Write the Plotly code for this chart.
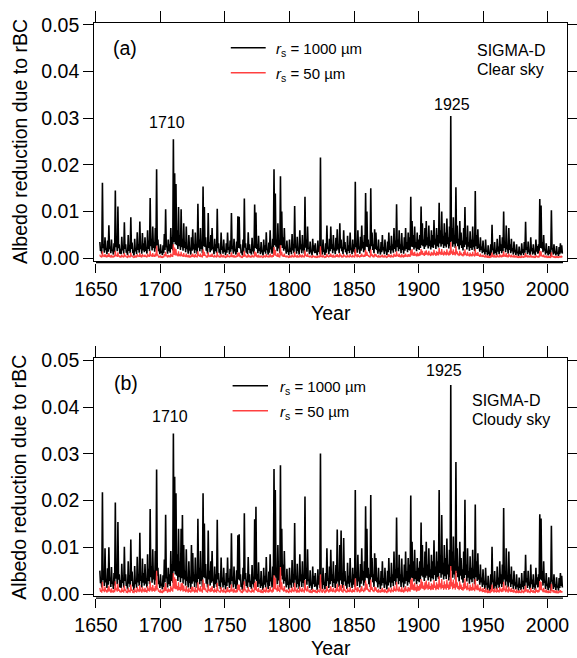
import plotly.graph_objects as go

W, H = 577, 658
years = list(range(1653, 2012))

# Albedo reduction (x 0.001). Each year: a seasonal high value and a seasonal low value.
# clear sky, rs = 1000 um -- seasonal highs
clear_1000_hi = [
    3.5, 2.0, 16.2, 3.0, 4.5, 2.2, 3.8,
    7.1, 2.5, 4.0, 1.8, 3.2, 14.5, 4.0, 11.1, 3.0, 2.0,
    4.6, 2.4, 7.7, 3.0, 1.5, 5.0, 2.8, 8.8, 3.4, 1.2,
    4.2, 2.0, 5.6, 3.0, 7.9, 2.6, 5.4, 3.2, 4.5, 2.4,
    6.0, 3.8, 12.9, 4.2, 6.8, 3.5, 6.5, 19.1, 4.0, 2.0,
    3.0, 1.5, 2.8, 5.2, 10.5, 2.5, 4.0, 3.0, 6.5, 4.5,
    25.5, 18.2, 15.9, 6.0, 11.0, 5.0, 10.5, 4.2, 7.5, 3.5,
    6.8, 2.5, 5.0, 2.0, 4.5, 6.2, 3.0, 5.5, 2.2, 11.7,
    4.0, 6.5, 3.0, 15.4, 11.0, 4.5, 2.5, 9.7, 3.5, 5.0,
    6.5, 2.2, 4.2, 3.0, 10.6, 3.2, 2.0, 5.5, 2.5, 4.0,
    1.8, 3.2, 5.5, 2.4, 3.8, 9.7, 2.6, 4.2, 2.0, 3.6,
    9.0, 8.9, 3.0, 1.6, 4.0, 12.8, 3.2, 2.2, 5.6, 3.0,
    2.0, 4.4, 2.6, 11.5, 9.8, 3.0, 4.8, 2.2, 3.5, 1.5,
    4.0, 2.8, 5.6, 2.0, 3.4, 6.0, 2.5, 4.2, 19.1, 13.9,
    4.0, 7.5, 3.0, 17.6, 10.0, 4.5, 6.5, 2.5, 3.8, 1.8,
    4.0, 2.2, 5.2, 3.0, 11.2, 2.5, 4.6, 2.0, 6.0, 3.0,
    5.0, 2.6, 13.2, 4.0, 6.8, 2.2, 3.6, 1.6, 4.2, 2.8,
    3.2, 1.5, 3.8, 2.4, 21.6, 2.0, 4.0, 1.8, 3.2, 7.0,
    2.4, 4.2, 6.8, 3.0, 5.0, 2.2, 4.4, 6.2, 3.0, 7.5,
    4.0, 2.4, 6.0, 3.5, 2.0, 4.8, 2.8, 5.5, 2.2, 4.0,
    3.0, 16.4, 3.2, 6.0, 2.5, 4.6, 7.0, 3.5, 5.0, 14.0,
    10.0, 4.0, 3.0, 15.0, 5.5, 3.0, 6.2, 5.5, 2.5, 4.0,
    2.0, 3.5, 5.0, 2.4, 4.0, 1.8, 3.6, 5.5, 2.6, 4.8,
    3.0, 6.5, 3.8, 11.6, 4.0, 6.0, 3.0, 5.4, 2.5, 4.5,
    6.5, 3.5, 5.5, 4.5, 13.2, 8.0, 5.0, 6.8, 3.5, 5.5,
    4.0, 5.0, 11.1, 7.5, 4.0, 6.5, 8.0, 4.5, 7.0, 3.8,
    6.0, 5.0, 8.2, 4.2, 6.5, 5.0, 11.9, 6.0, 10.0, 4.8,
    7.5, 5.5, 8.5, 4.5, 6.8, 30.5, 6.5, 8.8, 5.0, 15.2,
    7.0, 4.2, 8.0, 5.5, 3.8, 6.5, 11.0, 4.5, 7.0, 3.5,
    5.8, 4.0, 6.8, 3.2, 14.4, 5.0, 6.2, 3.0, 4.5, 2.5,
    3.8, 2.0, 4.0, 1.6, 2.8, 1.2, 3.0, 7.2, 2.0, 3.5,
    1.8, 4.2, 2.5, 5.0, 3.0, 4.5, 10.0, 3.5, 7.0, 2.5,
    6.5, 3.0, 4.2, 2.2, 3.6, 1.8, 3.0, 1.4, 2.5, 1.5,
    3.2, 2.0, 3.5, 7.8, 2.4, 3.6, 1.8, 4.5, 2.2, 3.0,
    1.5, 4.0, 2.6, 3.0, 12.7, 11.3, 3.5, 5.0, 2.0, 3.2,
    1.6, 2.6, 1.4, 10.3, 2.0, 3.0, 1.5, 2.6, 1.2, 2.4,
    3.2, 2.8,
]
# clear sky, rs = 1000 um -- seasonal lows
clear_1000_lo = [
    1.6, 1.0, 2.2, 1.2, 1.8, 0.9, 1.4,
    2.0, 1.1, 1.6, 0.8, 1.3, 2.4, 1.5, 2.2, 1.0, 0.9,
    1.7, 1.0, 2.0, 1.2, 0.7, 1.6, 1.1, 2.0, 1.3, 0.6,
    1.5, 0.9, 1.8, 1.2, 2.0, 1.0, 1.7, 1.3, 1.6, 1.0,
    2.0, 1.5, 2.6, 1.7, 2.2, 1.4, 2.1, 2.8, 1.5, 0.9,
    1.2, 0.7, 1.1, 1.8, 2.4, 1.0, 1.5, 1.2, 2.0, 1.7,
    3.5, 3.0, 2.8, 2.0, 2.6, 1.8, 2.4, 1.6, 2.2, 1.3,
    2.0, 1.0, 1.7, 0.8, 1.6, 1.9, 1.1, 1.8, 0.9, 2.3,
    1.5, 2.0, 1.1, 2.6, 2.4, 1.6, 1.0, 2.2, 1.3, 1.7,
    2.0, 0.9, 1.5, 1.1, 2.2, 1.2, 0.8, 1.8, 1.0, 1.4,
    0.7, 1.2, 1.8, 0.9, 1.4, 2.0, 1.0, 1.5, 0.8, 1.3,
    2.2, 2.1, 1.1, 0.6, 1.4, 2.3, 1.2, 0.9, 1.8, 1.1,
    0.8, 1.5, 1.0, 2.2, 2.0, 1.1, 1.6, 0.9, 1.3, 0.6,
    1.4, 1.0, 1.8, 0.8, 1.2, 1.9, 1.0, 1.5, 2.8, 2.5,
    1.5, 2.1, 1.1, 2.8, 2.2, 1.6, 2.0, 1.0, 1.4, 0.7,
    1.4, 0.9, 1.7, 1.1, 2.2, 1.0, 1.6, 0.8, 1.9, 1.1,
    1.7, 1.0, 2.3, 1.4, 2.0, 0.9, 1.3, 0.6, 1.5, 1.1,
    1.2, 0.6, 1.4, 0.9, 2.2, 0.8, 1.4, 0.7, 1.2, 2.0,
    0.9, 1.5, 2.0, 1.1, 1.7, 0.9, 1.6, 1.9, 1.1, 2.1,
    1.5, 0.9, 1.9, 1.3, 0.8, 1.6, 1.1, 1.8, 0.9, 1.4,
    1.1, 2.4, 1.2, 1.9, 1.0, 1.6, 2.1, 1.3, 1.7, 2.5,
    2.4, 1.5, 1.1, 2.6, 1.8, 1.1, 2.0, 1.8, 1.0, 1.5,
    0.8, 1.3, 1.7, 0.9, 1.5, 0.7, 1.3, 1.8, 1.0, 1.7,
    1.2, 2.0, 1.4, 2.4, 1.5, 2.0, 1.1, 1.8, 1.0, 1.6,
    2.0, 1.3, 1.8, 1.6, 2.5, 2.4, 1.9, 2.3, 1.5, 2.0,
    1.8, 2.2, 2.8, 2.6, 2.0, 2.5, 2.8, 2.1, 2.6, 1.9,
    2.4, 2.2, 2.9, 2.0, 2.6, 2.3, 3.2, 2.5, 3.0, 2.2,
    2.7, 2.3, 3.0, 2.1, 2.6, 3.6, 2.5, 3.0, 2.2, 3.2,
    2.6, 1.9, 2.8, 2.2, 1.7, 2.4, 2.9, 1.9, 2.5, 1.6,
    2.2, 1.8, 2.4, 1.5, 2.6, 2.0, 2.2, 1.4, 1.8, 1.1,
    1.4, 0.8, 1.4, 0.6, 1.0, 0.4, 1.0, 1.8, 0.8, 1.2,
    0.7, 1.4, 0.9, 1.6, 1.1, 1.5, 2.2, 1.3, 1.9, 1.0,
    1.8, 1.1, 1.5, 0.8, 1.3, 0.7, 1.1, 0.5, 0.9, 0.6,
    1.1, 0.7, 1.2, 1.8, 0.9, 1.3, 0.7, 1.5, 0.8, 1.1,
    0.6, 1.4, 1.0, 1.1, 2.2, 2.1, 1.3, 1.7, 0.8, 1.2,
    0.6, 1.0, 0.5, 1.9, 0.8, 1.1, 0.6, 1.0, 0.5, 0.9,
    1.2, 1.0,
]

# clear sky, rs = 50 um -- highs / lows
clear_50_hi = [
    0.8, 0.5, 1.5, 0.6, 0.9, 0.5, 0.7,
    1.1, 0.5, 0.7, 0.4, 0.6, 1.6, 0.7, 1.3, 0.6, 0.4,
    0.8, 0.5, 1.1, 0.6, 0.3, 0.8, 0.5, 1.2, 0.6, 0.3,
    0.7, 0.4, 0.9, 0.6, 1.1, 0.5, 0.9, 0.6, 0.8, 0.5,
    1.0, 0.7, 1.6, 0.8, 1.1, 0.7, 1.0, 2.7, 0.7, 0.4,
    0.6, 0.3, 0.5, 0.9, 1.4, 0.5, 0.7, 0.6, 1.0, 0.8,
    3.0, 2.3, 2.0, 1.0, 1.5, 0.9, 1.4, 0.8, 1.1, 0.6,
    1.0, 0.5, 0.8, 0.4, 0.8, 1.0, 0.5, 0.9, 0.4, 1.5,
    0.7, 1.0, 0.5, 1.9, 1.4, 0.7, 0.4, 1.3, 0.6, 0.8,
    1.0, 0.4, 0.7, 0.5, 1.4, 0.6, 0.4, 0.9, 0.5, 0.7,
    0.3, 0.6, 0.9, 0.4, 0.6, 1.3, 0.5, 0.7, 0.4, 0.6,
    1.2, 1.2, 0.5, 0.3, 0.7, 1.6, 0.6, 0.4, 0.9, 0.5,
    0.4, 0.7, 0.5, 1.5, 1.3, 0.5, 0.8, 0.4, 0.6, 0.3,
    0.7, 0.5, 0.9, 0.4, 0.6, 1.0, 0.5, 0.7, 2.4, 1.8,
    0.7, 1.1, 0.5, 2.8, 1.4, 0.7, 1.0, 0.4, 0.6, 0.3,
    0.7, 0.4, 0.8, 0.5, 1.4, 0.4, 0.7, 0.4, 0.9, 0.5,
    0.8, 0.5, 1.7, 0.7, 1.0, 0.4, 0.6, 0.3, 0.7, 0.5,
    0.5, 0.3, 0.6, 0.4, 2.6, 0.4, 0.7, 0.3, 0.5, 1.0,
    0.4, 0.7, 1.0, 0.5, 0.8, 0.4, 0.7, 0.9, 0.5, 1.1,
    0.7, 0.4, 0.9, 0.6, 0.4, 0.8, 0.5, 0.9, 0.4, 0.7,
    0.5, 2.0, 0.6, 0.9, 0.4, 0.7, 1.0, 0.6, 0.8, 1.8,
    1.4, 0.7, 0.5, 1.9, 0.9, 0.5, 1.0, 0.9, 0.4, 0.7,
    0.4, 0.6, 0.8, 0.4, 0.7, 0.3, 0.6, 0.9, 0.5, 0.8,
    0.5, 1.0, 0.7, 1.5, 0.7, 1.0, 0.5, 0.9, 0.5, 0.8,
    1.0, 0.6, 0.9, 0.8, 1.7, 2.0, 1.2, 1.4, 0.9, 1.2,
    1.0, 1.3, 2.0, 1.6, 1.1, 1.5, 1.7, 1.2, 1.6, 1.0,
    1.4, 1.2, 1.8, 1.1, 1.5, 1.3, 2.2, 1.4, 2.0, 1.2,
    1.6, 1.3, 1.9, 1.2, 1.6, 3.5, 1.5, 1.9, 1.3, 2.6,
    1.5, 1.0, 1.6, 1.2, 0.9, 1.4, 1.9, 1.0, 1.4, 0.8,
    1.2, 0.9, 1.4, 0.8, 2.0, 1.1, 1.3, 0.7, 1.0, 0.6,
    0.8, 0.5, 0.8, 0.4, 0.6, 0.3, 0.6, 1.2, 0.5, 0.7,
    0.4, 0.8, 0.5, 0.9, 0.6, 0.8, 1.5, 0.7, 1.1, 0.5,
    1.0, 0.6, 0.8, 0.5, 0.7, 0.4, 0.6, 0.3, 0.5, 0.3,
    0.6, 0.4, 0.6, 1.1, 0.5, 0.6, 0.4, 0.8, 0.4, 0.5,
    0.3, 0.7, 0.5, 0.5, 1.6, 1.5, 0.6, 0.8, 0.4, 0.6,
    0.3, 0.5, 0.3, 1.3, 0.4, 0.5, 0.3, 0.5, 0.3, 0.4,
    0.5, 0.4,
]
clear_50_lo = [
    0.3, 0.2, 0.4, 0.3, 0.4, 0.2, 0.3,
    0.4, 0.2, 0.3, 0.2, 0.3, 0.5, 0.3, 0.4, 0.2, 0.2,
    0.3, 0.2, 0.4, 0.3, 0.1, 0.3, 0.2, 0.4, 0.3, 0.1,
    0.3, 0.2, 0.4, 0.3, 0.4, 0.2, 0.4, 0.3, 0.3, 0.2,
    0.4, 0.3, 0.5, 0.3, 0.4, 0.3, 0.4, 0.6, 0.3, 0.2,
    0.2, 0.1, 0.2, 0.4, 0.5, 0.2, 0.3, 0.2, 0.4, 0.3,
    0.7, 0.6, 0.6, 0.4, 0.5, 0.4, 0.5, 0.3, 0.4, 0.3,
    0.4, 0.2, 0.3, 0.2, 0.3, 0.4, 0.2, 0.4, 0.2, 0.5,
    0.3, 0.4, 0.2, 0.5, 0.5, 0.3, 0.2, 0.4, 0.3, 0.3,
    0.4, 0.2, 0.3, 0.2, 0.4, 0.2, 0.2, 0.4, 0.2, 0.3,
    0.1, 0.2, 0.4, 0.2, 0.3, 0.4, 0.2, 0.3, 0.2, 0.3,
    0.4, 0.4, 0.2, 0.1, 0.3, 0.5, 0.2, 0.2, 0.4, 0.2,
    0.2, 0.3, 0.2, 0.4, 0.4, 0.2, 0.3, 0.2, 0.3, 0.1,
    0.3, 0.2, 0.4, 0.2, 0.2, 0.4, 0.2, 0.3, 0.6, 0.5,
    0.3, 0.4, 0.2, 0.6, 0.4, 0.3, 0.4, 0.2, 0.3, 0.1,
    0.3, 0.2, 0.3, 0.2, 0.4, 0.2, 0.3, 0.2, 0.4, 0.2,
    0.3, 0.2, 0.5, 0.3, 0.4, 0.2, 0.3, 0.1, 0.3, 0.2,
    0.2, 0.1, 0.3, 0.2, 0.4, 0.2, 0.3, 0.1, 0.2, 0.4,
    0.2, 0.3, 0.4, 0.2, 0.3, 0.2, 0.3, 0.4, 0.2, 0.4,
    0.3, 0.2, 0.4, 0.3, 0.2, 0.3, 0.2, 0.4, 0.2, 0.3,
    0.2, 0.5, 0.2, 0.4, 0.2, 0.3, 0.4, 0.3, 0.3, 0.5,
    0.5, 0.3, 0.2, 0.5, 0.4, 0.2, 0.4, 0.4, 0.2, 0.3,
    0.2, 0.3, 0.3, 0.2, 0.3, 0.1, 0.3, 0.4, 0.2, 0.3,
    0.2, 0.4, 0.3, 0.5, 0.3, 0.4, 0.2, 0.4, 0.2, 0.3,
    0.4, 0.3, 0.4, 0.3, 0.6, 0.6, 0.5, 0.6, 0.4, 0.5,
    0.5, 0.6, 0.8, 0.7, 0.5, 0.7, 0.8, 0.6, 0.7, 0.5,
    0.7, 0.6, 0.8, 0.5, 0.7, 0.6, 0.9, 0.7, 0.8, 0.6,
    0.8, 0.6, 0.8, 0.6, 0.7, 1.0, 0.7, 0.8, 0.6, 0.9,
    0.7, 0.5, 0.7, 0.6, 0.4, 0.6, 0.7, 0.5, 0.6, 0.4,
    0.5, 0.4, 0.6, 0.4, 0.6, 0.5, 0.5, 0.3, 0.4, 0.3,
    0.3, 0.2, 0.3, 0.1, 0.2, 0.1, 0.2, 0.4, 0.2, 0.3,
    0.2, 0.3, 0.2, 0.3, 0.2, 0.3, 0.4, 0.3, 0.4, 0.2,
    0.4, 0.2, 0.3, 0.2, 0.3, 0.2, 0.2, 0.1, 0.2, 0.1,
    0.2, 0.1, 0.2, 0.4, 0.2, 0.3, 0.2, 0.3, 0.2, 0.2,
    0.1, 0.3, 0.2, 0.2, 0.4, 0.4, 0.3, 0.3, 0.2, 0.2,
    0.1, 0.2, 0.1, 0.4, 0.2, 0.2, 0.1, 0.2, 0.1, 0.2,
    0.2, 0.2,
]

# cloudy sky, rs = 1000 um -- highs / lows
cloudy_1000_hi = [
    5.0, 3.0, 21.8, 4.5, 9.8, 3.2, 5.5,
    10.0, 3.5, 5.8, 2.6, 4.5, 19.6, 5.5, 15.4, 4.2, 3.0,
    6.5, 3.4, 10.1, 4.2, 2.2, 7.0, 4.0, 11.7, 4.8, 1.8,
    6.0, 2.8, 8.0, 4.2, 13.1, 3.6, 7.6, 4.5, 6.4, 3.4,
    8.5, 5.4, 18.2, 6.0, 9.6, 5.0, 9.2, 26.7, 5.6, 2.8,
    4.2, 2.2, 4.0, 7.4, 17.0, 3.6, 5.6, 4.2, 9.2, 6.4,
    34.4, 25.1, 21.6, 8.5, 14.0, 7.0, 14.0, 16.9, 10.5, 5.0,
    9.6, 3.5, 7.0, 2.8, 10.5, 8.8, 4.2, 7.8, 3.1, 16.1,
    5.6, 9.2, 4.2, 21.6, 15.1, 6.4, 3.5, 13.6, 5.0, 7.0,
    9.2, 3.1, 5.9, 4.2, 15.9, 4.5, 2.8, 7.8, 3.5, 5.6,
    2.5, 4.5, 7.8, 3.4, 5.4, 13.0, 3.7, 5.9, 2.8, 5.1,
    12.6, 12.8, 4.2, 2.2, 5.6, 17.3, 4.5, 3.1, 7.9, 4.2,
    2.8, 6.2, 3.7, 16.0, 18.7, 4.2, 6.8, 3.1, 4.9, 2.1,
    5.6, 3.9, 7.9, 2.8, 4.8, 8.5, 3.5, 5.9, 26.8, 22.3,
    5.6, 10.5, 4.2, 27.6, 14.0, 6.3, 9.2, 3.5, 5.4, 2.5,
    5.6, 3.1, 7.3, 4.2, 15.2, 3.5, 6.5, 2.8, 8.5, 4.2,
    7.0, 3.6, 20.9, 5.6, 9.6, 3.1, 5.1, 2.2, 5.9, 3.9,
    4.5, 2.1, 5.3, 3.4, 30.1, 2.8, 5.6, 2.5, 4.5, 9.8,
    3.4, 5.9, 9.5, 4.2, 7.0, 3.1, 6.2, 13.8, 4.2, 10.5,
    13.6, 3.4, 12.0, 4.9, 2.8, 6.7, 3.9, 7.7, 3.1, 5.6,
    4.2, 22.3, 4.5, 8.4, 3.5, 6.4, 9.8, 4.9, 7.0, 18.8,
    14.0, 5.6, 4.2, 21.2, 7.7, 4.2, 8.7, 7.7, 3.5, 5.6,
    2.8, 4.9, 7.0, 3.4, 5.6, 2.5, 5.0, 7.7, 3.6, 6.7,
    4.2, 9.1, 5.3, 16.4, 5.6, 8.4, 4.2, 7.6, 3.5, 6.3,
    9.1, 4.9, 7.7, 6.3, 21.1, 11.2, 7.0, 9.5, 4.9, 7.7,
    5.6, 7.0, 15.3, 10.5, 5.6, 9.1, 11.2, 6.3, 9.8, 5.3,
    8.4, 7.0, 11.5, 5.9, 9.1, 7.0, 22.3, 8.4, 16.9, 6.7,
    10.5, 7.7, 11.9, 6.3, 9.5, 44.8, 9.1, 12.3, 7.0, 28.3,
    9.8, 5.9, 11.2, 7.7, 5.3, 9.1, 20.2, 6.3, 9.8, 4.9,
    8.1, 5.6, 9.5, 4.5, 19.2, 7.0, 8.7, 4.2, 6.3, 3.5,
    5.3, 2.8, 5.6, 2.2, 3.9, 1.7, 4.2, 10.1, 2.8, 4.9,
    2.5, 5.9, 3.5, 7.0, 4.2, 6.3, 18.4, 4.9, 9.8, 3.5,
    9.1, 4.2, 5.9, 3.1, 5.0, 2.5, 4.2, 2.0, 3.5, 2.1,
    4.5, 2.8, 4.9, 8.4, 3.4, 5.0, 2.5, 6.3, 3.1, 4.2,
    2.1, 5.6, 3.6, 4.2, 17.1, 16.2, 4.9, 7.0, 2.8, 4.5,
    2.2, 3.6, 2.0, 14.6, 2.8, 4.2, 2.1, 3.6, 1.7, 3.4,
    4.5, 3.9,
]
cloudy_1000_lo = [
    2.3, 1.4, 3.0, 1.7, 2.5, 1.3, 2.0,
    2.8, 1.5, 2.2, 1.1, 1.8, 3.3, 2.1, 3.1, 1.4, 1.3,
    2.4, 1.4, 2.8, 1.7, 1.0, 2.2, 1.5, 2.8, 1.8, 0.8,
    2.1, 1.3, 2.5, 1.7, 2.8, 1.4, 2.4, 1.8, 2.2, 1.4,
    2.8, 2.1, 3.6, 2.4, 3.1, 2.0, 2.9, 3.9, 2.1, 1.3,
    1.7, 1.0, 1.5, 2.5, 3.4, 1.4, 2.1, 1.7, 2.8, 2.4,
    4.9, 4.2, 3.9, 2.8, 3.6, 2.5, 3.4, 2.2, 3.1, 1.8,
    2.8, 1.4, 2.4, 1.1, 2.2, 2.7, 1.5, 2.5, 1.3, 3.2,
    2.1, 2.8, 1.5, 3.6, 3.4, 2.2, 1.4, 3.1, 1.8, 2.4,
    2.8, 1.3, 2.1, 1.5, 3.1, 1.7, 1.1, 2.5, 1.4, 2.0,
    1.0, 1.7, 2.5, 1.3, 2.0, 2.8, 1.4, 2.1, 1.1, 1.8,
    3.1, 2.9, 1.5, 0.8, 2.0, 3.2, 1.7, 1.3, 2.5, 1.5,
    1.1, 2.1, 1.4, 3.1, 2.8, 1.5, 2.2, 1.3, 1.8, 0.8,
    2.0, 1.4, 2.5, 1.1, 1.7, 2.7, 1.4, 2.1, 3.9, 3.5,
    2.1, 2.9, 1.5, 3.9, 3.1, 2.2, 2.8, 1.4, 2.0, 1.0,
    2.0, 1.3, 2.4, 1.5, 3.1, 1.4, 2.2, 1.1, 2.7, 1.5,
    2.4, 1.4, 3.2, 2.0, 2.8, 1.3, 1.8, 0.8, 2.1, 1.5,
    1.7, 0.8, 2.0, 1.3, 3.1, 1.1, 2.0, 1.0, 1.7, 2.8,
    1.3, 2.1, 2.8, 1.5, 2.4, 1.3, 2.2, 2.7, 1.5, 2.9,
    2.1, 1.3, 2.7, 1.8, 1.1, 2.2, 1.5, 2.5, 1.3, 2.0,
    1.5, 3.4, 1.7, 2.7, 1.4, 2.2, 2.9, 1.8, 2.4, 3.5,
    3.4, 2.1, 1.5, 3.6, 2.5, 1.5, 2.8, 2.5, 1.4, 2.1,
    1.1, 1.8, 2.4, 1.3, 2.1, 1.0, 1.8, 2.5, 1.4, 2.4,
    1.7, 2.8, 2.0, 3.4, 2.1, 2.8, 1.5, 2.5, 1.4, 2.2,
    2.8, 1.8, 2.5, 2.2, 3.5, 3.4, 2.7, 3.2, 2.1, 2.8,
    2.5, 3.1, 3.9, 3.6, 2.8, 3.5, 3.9, 2.9, 3.6, 2.7,
    3.4, 3.1, 4.1, 2.8, 3.6, 3.2, 4.5, 3.5, 4.2, 3.1,
    3.8, 3.2, 4.2, 2.9, 3.6, 5.0, 3.5, 4.2, 3.1, 4.5,
    3.6, 2.7, 3.9, 3.1, 2.4, 3.4, 4.1, 2.7, 3.5, 2.2,
    3.1, 2.5, 3.4, 2.1, 3.6, 2.8, 3.1, 2.0, 2.5, 1.5,
    2.0, 1.1, 2.0, 0.8, 1.4, 0.6, 1.4, 2.5, 1.1, 1.7,
    1.0, 2.0, 1.3, 2.2, 1.5, 2.1, 3.1, 1.8, 2.7, 1.4,
    2.5, 1.5, 2.1, 1.1, 1.8, 1.0, 1.5, 0.7, 1.3, 0.8,
    1.5, 1.0, 1.7, 2.5, 1.3, 1.8, 1.0, 2.1, 1.1, 1.5,
    0.8, 2.0, 1.4, 1.5, 3.1, 2.9, 1.8, 2.4, 1.1, 1.7,
    0.8, 1.4, 0.7, 2.7, 1.1, 1.5, 0.8, 1.4, 0.7, 1.3,
    1.7, 1.4,
]

# cloudy sky, rs = 50 um -- highs / lows
cloudy_50_hi = [
    1.3, 0.8, 2.6, 1.0, 1.6, 0.8, 1.2,
    1.8, 0.8, 1.2, 0.6, 1.0, 2.7, 1.2, 2.2, 1.0, 0.7,
    1.3, 0.8, 1.8, 1.0, 0.5, 1.3, 0.8, 2.0, 1.0, 0.5,
    1.2, 0.7, 1.5, 1.0, 1.9, 0.8, 1.5, 1.0, 1.3, 0.8,
    1.7, 1.2, 2.7, 1.4, 1.9, 1.2, 1.7, 5.0, 1.2, 0.7,
    1.0, 0.5, 0.9, 1.5, 2.4, 0.8, 1.2, 1.0, 1.7, 1.3,
    4.5, 3.6, 3.2, 1.7, 2.5, 1.5, 2.3, 2.4, 1.8, 1.0,
    1.7, 0.8, 1.3, 0.7, 1.5, 1.6, 0.8, 1.5, 0.7, 2.5,
    1.2, 1.7, 0.8, 3.1, 2.3, 1.2, 0.7, 2.1, 1.0, 1.3,
    1.7, 0.7, 1.2, 0.8, 2.4, 0.9, 0.6, 1.5, 0.8, 1.2,
    0.5, 1.0, 1.5, 0.7, 1.0, 2.1, 0.8, 1.2, 0.6, 1.0,
    2.0, 2.0, 0.8, 0.5, 1.1, 2.7, 1.0, 0.7, 1.5, 0.9,
    0.6, 1.2, 0.8, 2.4, 2.8, 0.8, 1.3, 0.7, 1.0, 0.5,
    1.2, 0.8, 1.5, 0.6, 1.0, 1.6, 0.8, 1.2, 4.0, 3.4,
    1.2, 1.9, 0.9, 5.8, 2.5, 1.2, 1.7, 0.7, 1.0, 0.5,
    1.2, 0.7, 1.4, 0.8, 2.4, 0.7, 1.2, 0.6, 1.6, 0.8,
    1.3, 0.8, 3.0, 1.1, 1.7, 0.6, 1.0, 0.5, 1.1, 0.8,
    0.9, 0.5, 1.0, 0.7, 4.2, 0.6, 1.1, 0.5, 0.9, 1.7,
    0.7, 1.1, 1.7, 0.8, 1.3, 0.6, 1.2, 2.2, 0.8, 1.8,
    2.0, 0.7, 1.9, 1.0, 0.6, 1.3, 0.8, 1.5, 0.6, 1.1,
    0.8, 3.3, 1.0, 1.5, 0.7, 1.2, 1.7, 0.9, 1.3, 2.9,
    2.2, 1.1, 0.8, 3.1, 1.5, 0.8, 1.6, 1.4, 0.7, 1.1,
    0.6, 1.0, 1.3, 0.7, 1.1, 0.5, 1.0, 1.4, 0.8, 1.3,
    0.8, 1.7, 1.1, 2.6, 1.1, 1.6, 0.8, 1.5, 0.7, 1.3,
    1.7, 1.0, 1.5, 1.3, 3.1, 3.4, 2.0, 2.4, 1.5, 2.0,
    1.7, 2.1, 3.2, 2.6, 1.8, 2.5, 2.9, 2.0, 2.6, 1.7,
    2.3, 2.0, 3.0, 1.8, 2.5, 2.1, 3.8, 2.3, 3.2, 1.9,
    2.7, 2.1, 3.1, 2.0, 2.6, 6.0, 2.5, 3.1, 2.2, 5.0,
    2.5, 1.7, 2.7, 2.0, 1.5, 2.3, 3.3, 1.7, 2.4, 1.3,
    2.0, 1.5, 2.3, 1.3, 3.2, 1.8, 2.1, 1.2, 1.6, 1.0,
    1.3, 0.8, 1.3, 0.6, 1.0, 0.5, 1.0, 2.0, 0.8, 1.2,
    0.7, 1.3, 0.8, 1.5, 1.0, 1.3, 2.6, 1.1, 1.8, 0.8,
    1.6, 1.0, 1.3, 0.8, 1.1, 0.6, 1.0, 0.5, 0.8, 0.5,
    1.0, 0.6, 1.0, 1.8, 0.8, 1.0, 0.6, 1.3, 0.7, 0.9,
    0.5, 1.2, 0.8, 0.9, 2.8, 2.6, 1.0, 1.3, 0.6, 1.0,
    0.5, 0.8, 0.5, 2.2, 0.7, 0.9, 0.5, 0.8, 0.4, 0.7,
    0.8, 0.6,
]
cloudy_50_lo = [
    0.5, 0.3, 0.7, 0.4, 0.6, 0.3, 0.5,
    0.7, 0.3, 0.5, 0.3, 0.4, 0.8, 0.5, 0.7, 0.4, 0.3,
    0.5, 0.3, 0.7, 0.4, 0.2, 0.5, 0.3, 0.7, 0.4, 0.2,
    0.5, 0.3, 0.6, 0.4, 0.7, 0.3, 0.6, 0.4, 0.5, 0.3,
    0.7, 0.5, 0.8, 0.5, 0.7, 0.5, 0.7, 1.0, 0.5, 0.3,
    0.4, 0.2, 0.4, 0.6, 0.8, 0.3, 0.5, 0.4, 0.7, 0.5,
    1.2, 1.0, 1.0, 0.7, 0.9, 0.6, 0.8, 0.5, 0.7, 0.4,
    0.7, 0.3, 0.5, 0.3, 0.5, 0.6, 0.3, 0.6, 0.3, 0.8,
    0.5, 0.7, 0.3, 0.9, 0.8, 0.5, 0.3, 0.7, 0.4, 0.5,
    0.7, 0.3, 0.5, 0.3, 0.7, 0.4, 0.3, 0.6, 0.3, 0.5,
    0.2, 0.4, 0.6, 0.3, 0.5, 0.7, 0.3, 0.5, 0.3, 0.4,
    0.8, 0.7, 0.4, 0.2, 0.5, 0.8, 0.4, 0.3, 0.6, 0.4,
    0.3, 0.5, 0.3, 0.8, 0.7, 0.4, 0.5, 0.3, 0.4, 0.2,
    0.5, 0.3, 0.6, 0.3, 0.4, 0.6, 0.3, 0.5, 1.0, 0.9,
    0.5, 0.7, 0.4, 1.0, 0.8, 0.5, 0.7, 0.3, 0.5, 0.2,
    0.5, 0.3, 0.6, 0.4, 0.8, 0.3, 0.5, 0.3, 0.7, 0.4,
    0.6, 0.3, 0.8, 0.5, 0.7, 0.3, 0.4, 0.2, 0.5, 0.4,
    0.4, 0.2, 0.5, 0.3, 0.8, 0.3, 0.5, 0.2, 0.4, 0.7,
    0.3, 0.5, 0.7, 0.4, 0.6, 0.3, 0.5, 0.7, 0.4, 0.7,
    0.5, 0.3, 0.7, 0.4, 0.3, 0.5, 0.4, 0.6, 0.3, 0.5,
    0.4, 0.9, 0.4, 0.7, 0.3, 0.5, 0.7, 0.4, 0.6, 0.9,
    0.8, 0.5, 0.4, 0.9, 0.6, 0.4, 0.7, 0.6, 0.3, 0.5,
    0.3, 0.4, 0.6, 0.3, 0.5, 0.2, 0.4, 0.6, 0.3, 0.6,
    0.4, 0.7, 0.5, 0.8, 0.5, 0.7, 0.4, 0.6, 0.3, 0.5,
    0.7, 0.4, 0.6, 0.5, 0.9, 0.9, 0.7, 0.8, 0.5, 0.7,
    0.7, 0.9, 1.2, 1.1, 0.8, 1.0, 1.2, 0.9, 1.1, 0.8,
    1.0, 0.9, 1.3, 0.8, 1.1, 0.9, 1.4, 1.0, 1.3, 0.9,
    1.2, 0.9, 1.3, 0.9, 1.1, 1.6, 1.0, 1.3, 0.9, 1.4,
    1.1, 0.8, 1.1, 0.9, 0.7, 1.0, 1.2, 0.8, 1.0, 0.6,
    0.8, 0.7, 0.9, 0.6, 1.0, 0.8, 0.8, 0.5, 0.7, 0.4,
    0.5, 0.3, 0.5, 0.2, 0.4, 0.2, 0.4, 0.7, 0.3, 0.5,
    0.3, 0.5, 0.3, 0.6, 0.4, 0.5, 0.8, 0.4, 0.7, 0.3,
    0.6, 0.4, 0.5, 0.3, 0.4, 0.2, 0.4, 0.2, 0.3, 0.2,
    0.4, 0.2, 0.4, 0.7, 0.3, 0.4, 0.2, 0.5, 0.3, 0.4,
    0.2, 0.5, 0.3, 0.4, 0.8, 0.8, 0.4, 0.5, 0.3, 0.4,
    0.2, 0.3, 0.2, 0.7, 0.3, 0.4, 0.2, 0.3, 0.2, 0.3,
    0.3, 0.3,
]

x_ticks = [1650, 1700, 1750, 1800, 1850, 1900, 1950, 2000]
y_ticks = [0.0, 0.01, 0.02, 0.03, 0.04, 0.05]
y_ticktext = ["0.00", "0.01", "0.02", "0.03", "0.04", "0.05"]
legend_labels = ["<i>r</i><sub>s</sub> = 1000 µm", "<i>r</i><sub>s</sub> = 50 µm"]

BLACK = "#000000"
RED = "#ff4040"
FONT = "Liberation Sans, Arial, sans-serif"
FS = 19.5
FS_SMALL = 16
FS_LEG = 15


def py(p):  # pixel y -> paper
    return 1 - p / H


def px(p):  # pixel x -> paper
    return p / W


def seasonal(hi, lo):
    """Arrange the typed seasonal high/low values in time order (high, then low half a year later)."""
    n = min(len(years), len(hi), len(lo))
    xs, ys = [], []
    for i in range(n):
        xs.append(years[i]); ys.append(hi[i] * 0.001)
        xs.append(years[i] + 0.5); ys.append(lo[i] * 0.001)
    return xs, ys


fig = go.Figure()

series = [
    (clear_1000_hi, clear_1000_lo, BLACK, 1.6, "x", "y"),
    (clear_50_hi, clear_50_lo, RED, 1.25, "x", "y"),
    (cloudy_1000_hi, cloudy_1000_lo, BLACK, 1.6, "x2", "y2"),
    (cloudy_50_hi, cloudy_50_lo, RED, 1.25, "x2", "y2"),
]
for hi, lo, col, lw, xa, ya in series:
    xs, ys = seasonal(hi, lo)
    fig.add_trace(go.Scatter(x=xs, y=ys, mode="lines", line=dict(color=col, width=lw),
                             xaxis=xa, yaxis=ya, showlegend=False, hoverinfo="skip"))

XR = [1648.7, 2015.1]
YR = [-0.000514, 0.05052]
xdom = [px(94.3), px(567)]

panels = [
    dict(top=22.5, bot=260.7, axis_y=262.5),
    dict(top=358.2, bot=596.4, axis_y=598.2),
]

layout = dict(
    width=W, height=H, margin=dict(l=0, r=0, t=0, b=0, pad=0, autoexpand=False),
    paper_bgcolor="white", plot_bgcolor="white",
    font=dict(family=FONT, size=FS, color="black"),
    showlegend=False,
)

for i, p in enumerate(panels):
    xa = "xaxis" if i == 0 else "xaxis2"
    ya = "yaxis" if i == 0 else "yaxis2"
    xn = "x" if i == 0 else "x2"
    yn = "y" if i == 0 else "y2"
    ydom = [py(p["bot"]), py(p["top"])]
    layout[xa] = dict(domain=xdom, range=XR, anchor=yn, showline=True, mirror=True,
                      linecolor="black", linewidth=1.3, ticks="", showticklabels=False,
                      showgrid=False, zeroline=False, automargin=False)
    layout[ya] = dict(domain=ydom, range=YR, anchor=xn, showline=True, mirror="ticks",
                      linecolor="black", linewidth=1.3, ticks="outside", ticklen=10,
                      tickwidth=1.3, tickcolor="black", tickvals=y_ticks, ticktext=y_ticktext,
                      showgrid=False, zeroline=False, tickfont=dict(size=FS), automargin=False)
    top_id = 3 + 2 * i
    bot_id = 4 + 2 * i
    layout["xaxis%d" % top_id] = dict(overlaying=xn, range=XR, anchor=yn, side="top",
                                      ticks="outside", ticklen=11, tickwidth=1.3,
                                      tickcolor="black", tickvals=x_ticks,
                                      showticklabels=False, showline=False, showgrid=False,
                                      zeroline=False, automargin=False)
    layout["xaxis%d" % bot_id] = dict(overlaying=xn, range=XR, anchor="free",
                                      position=py(p["axis_y"]), side="bottom",
                                      ticks="outside", ticklen=9, tickwidth=1.3,
                                      tickcolor="black", tickvals=x_ticks,
                                      ticktext=[str(t) for t in x_ticks], showticklabels=True,
                                      showline=False, showgrid=False, zeroline=False,
                                      tickfont=dict(size=FS), automargin=False)
    for aid in (top_id, bot_id):
        fig.add_trace(go.Scatter(x=[x_ticks[0]], y=[0.0], mode="markers",
                                 marker=dict(opacity=0, size=1), xaxis="x%d" % aid, yaxis=yn,
                                 showlegend=False, hoverinfo="skip"))

fig.update_layout(**layout)

shapes = []
annotations = []

for i, p in enumerate(panels):
    xn = "x" if i == 0 else "x2"
    shapes.append(dict(type="line", xref=xn, yref="paper", x0=1650, x1=2012,
                       y0=py(p["axis_y"]), y1=py(p["axis_y"]),
                       line=dict(color="black", width=1.3)))

for yc, ylab in [(141.5, 313.3), (477.2, 647.5)]:
    annotations.append(dict(text="Albedo reduction due to rBC", x=px(19.5), y=py(yc),
                            xref="paper", yref="paper", showarrow=False, textangle=-90,
                            font=dict(size=FS), xanchor="center", yanchor="middle"))
    annotations.append(dict(text="Year", x=px(331), y=py(ylab), xref="paper", yref="paper",
                            showarrow=False, font=dict(size=FS), xanchor="center",
                            yanchor="middle"))

panel_txt = [
    dict(tag="(a)", tag_xy=(125, 48.3), leg_x=(230.8, 265.7), leg_y=(47.7, 72.7), txt_x=274.2,
         sig=("SIGMA-D", "Clear sky"), sig_x=474.8, sig_y=(50.7, 69.3),
         y1710=(166.7, 122.7), y1925=(452, 104.3)),
    dict(tag="(b)", tag_xy=(126, 383.3), leg_x=(232.6, 268.0), leg_y=(385.7, 410.7), txt_x=277.9,
         sig=("SIGMA-D", "Cloudy sky"), sig_x=470, sig_y=(400, 419),
         y1710=(170.4, 416.7), y1925=(444, 370)),
]

for t in panel_txt:
    annotations.append(dict(text=t["tag"], x=px(t["tag_xy"][0]), y=py(t["tag_xy"][1]),
                            xref="paper", yref="paper", showarrow=False,
                            font=dict(size=FS), xanchor="center", yanchor="middle"))
    for k, (lab, col) in enumerate(zip(legend_labels, [BLACK, RED])):
        shapes.append(dict(type="line", xref="paper", yref="paper",
                           x0=px(t["leg_x"][0]), x1=px(t["leg_x"][1]),
                           y0=py(t["leg_y"][k]), y1=py(t["leg_y"][k]),
                           line=dict(color=col, width=1.6)))
        annotations.append(dict(text=lab, x=px(t["txt_x"]), y=py(t["leg_y"][k] + 1.5),
                                xref="paper", yref="paper", showarrow=False,
                                font=dict(size=FS_LEG), xanchor="left", yanchor="middle"))
    for k, s in enumerate(t["sig"]):
        annotations.append(dict(text=s, x=px(t["sig_x"]), y=py(t["sig_y"][k]),
                                xref="paper", yref="paper", showarrow=False,
                                font=dict(size=FS_SMALL), xanchor="left", yanchor="middle"))
    for lab, key in [("1710", "y1710"), ("1925", "y1925")]:
        annotations.append(dict(text=lab, x=px(t[key][0]), y=py(t[key][1]),
                                xref="paper", yref="paper", showarrow=False,
                                font=dict(size=FS_SMALL), xanchor="center", yanchor="middle"))

fig.update_layout(shapes=shapes, annotations=annotations)
fig.write_html("out.html")
